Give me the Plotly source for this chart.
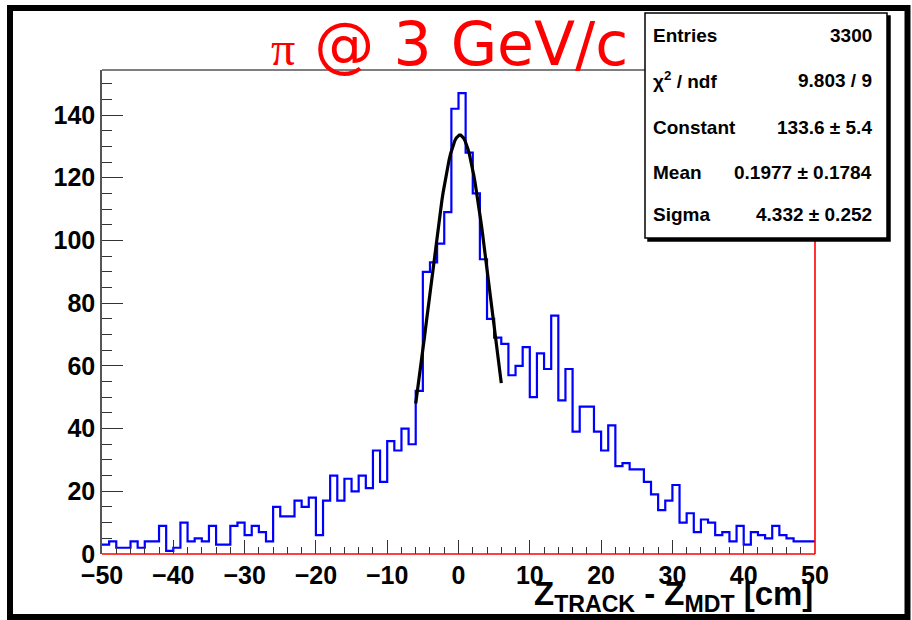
import numpy as np
import plotly.graph_objects as go

# Histogram: Z_TRACK - Z_MDT, 100 bins of 1 cm between -50 and 50
x_min, x_max, n_bins = -50, 50, 100
counts = [
    3, 4, 2, 2, 4, 2, 4, 4, 9, 1,
    2, 10, 4, 5, 4, 9, 3, 3, 9, 10,
    6, 9, 7, 4, 15, 12, 12, 17, 15, 18,
    6, 17, 25, 17, 24, 20, 25, 21, 33, 23,
    36, 33, 40, 35, 52, 90, 93, 99, 109, 142,
    147, 128, 115, 94, 75, 69, 67, 57, 60, 66,
    50, 64, 59, 76, 49, 59, 39, 47, 47, 39,
    33, 41, 28, 29, 27, 27, 23, 19, 14, 17,
    22, 10, 13, 7, 11, 10, 6, 7, 4, 9,
    3, 7, 6, 5, 9, 6, 5, 4, 4, 4,
]

# Gaussian fit results
entries = 3300
chi2, ndf = 9.803, 9
fit_const, fit_const_err = 133.6, 5.4
fit_mean, fit_mean_err = 0.1977, 0.1784
fit_sigma, fit_sigma_err = 4.332, 0.252
fit_range = (-6, 6)

stat_rows = [
    ("Entries", f"{entries}"),
    ("χ<sup>2</sup> / ndf", f"{chi2:.3f} / {ndf}"),
    ("Constant", f"{fit_const} ± {fit_const_err}"),
    ("Mean", f"{fit_mean} ± {fit_mean_err}"),
    ("Sigma", f"{fit_sigma} ± {fit_sigma_err}"),
]

y_max = 1.05 * max(counts)

edges = np.linspace(x_min, x_max, n_bins + 1)
step_x = list(edges)
step_y = list(counts) + [counts[-1]]

fx = np.linspace(fit_range[0], fit_range[1], 60)
fy = fit_const * np.exp(-0.5 * ((fx - fit_mean) / fit_sigma) ** 2)

# frame geometry (pixels)
W, H = 912, 620
L, R, T, B = 102, 815, 70, 554
PW, PH = R - L, B - T


def px(x):
    return (x - L) / PW


def py(y):
    return (B - y) / PH


fig = go.Figure()
fig.add_trace(go.Scatter(
    x=step_x, y=step_y, mode="lines", line_shape="hv",
    line=dict(color="#0000ff", width=2.2), hoverinfo="skip",
))
fig.add_trace(go.Scatter(
    x=fx, y=fy, mode="lines",
    line=dict(color="black", width=3.2), hoverinfo="skip",
))

tick_font = dict(family="Liberation Sans", size=25, color="black", weight="bold")

fig.update_layout(
    width=W, height=H,
    margin=dict(l=L, r=W - R, t=T, b=H - B),
    paper_bgcolor="white", plot_bgcolor="white",
    showlegend=False,
    xaxis=dict(
        range=[x_min, x_max], showgrid=False, zeroline=False, showline=False,
        tickmode="linear", tick0=-50, dtick=10,
        ticks="inside", ticklen=14, tickwidth=1.2, tickcolor="#333",
        minor=dict(dtick=2, ticks="inside", ticklen=7, tickwidth=1.2, tickcolor="#333"),
        tickfont=tick_font, ticklabelstandoff=4,
    ),
    yaxis=dict(
        range=[0, y_max], showgrid=False, zeroline=False,
        showline=True, linecolor="#555", linewidth=1.5,
        tickmode="linear", tick0=0, dtick=20,
        ticks="inside", ticklen=21, tickwidth=1.2, tickcolor="#333",
        minor=dict(dtick=5, ticks="inside", ticklen=10, tickwidth=1.2, tickcolor="#333"),
        tickfont=tick_font,
    ),
)

shapes = []
# outer page border
shapes.append(dict(type="rect", xref="paper", yref="paper",
                   x0=px(10), x1=px(907.5), y0=py(8), y1=py(617),
                   line=dict(color="black", width=6), fillcolor="rgba(0,0,0,0)"))
# frame: grey top, red bottom and right
shapes.append(dict(type="line", xref="paper", yref="paper",
                   x0=0, x1=1, y0=1, y1=1, line=dict(color="#555", width=1.5)))
shapes.append(dict(type="line", xref="paper", yref="paper",
                   x0=0, x1=1, y0=0, y1=0, line=dict(color="red", width=1.6)))
shapes.append(dict(type="line", xref="paper", yref="paper",
                   x0=1, x1=1, y0=0, y1=1, line=dict(color="red", width=1.6)))
# stat box with shadow
bx0, bx1, by0, by1 = 645, 887, 13, 238
shapes.append(dict(type="rect", xref="paper", yref="paper",
                   x0=px(bx0 + 3), x1=px(bx1 + 3), y0=py(by0 + 3), y1=py(by1 + 3),
                   line=dict(color="black", width=1.5), fillcolor="black"))
shapes.append(dict(type="rect", xref="paper", yref="paper",
                   x0=px(bx0), x1=px(bx1), y0=py(by0), y1=py(by1),
                   line=dict(color="black", width=1.5), fillcolor="white"))
fig.update_layout(shapes=shapes)

annotations = []
row_y = [36, 80, 127, 172, 214]
stat_font = dict(family="Liberation Sans", size=19, color="black", weight="bold")
for (lab, val), yy in zip(stat_rows, row_y):
    annotations.append(dict(xref="paper", yref="paper", x=px(651), y=py(yy),
                            xanchor="left", yanchor="middle", text=lab,
                            showarrow=False, font=stat_font))
    annotations.append(dict(xref="paper", yref="paper", x=px(874), y=py(yy),
                            xanchor="right", yanchor="middle", text=val,
                            showarrow=False, font=stat_font))

# title
annotations.append(dict(
    xref="paper", yref="paper", x=px(449), y=py(44),
    xanchor="center", yanchor="middle",
    text="<span style='font-family:Liberation Serif;font-size:48px'>π</span> @ 3 GeV/c",
    showarrow=False, font=dict(family="DejaVu Sans", size=60, color="red"),
))
# x-axis title
annotations.append(dict(
    xref="paper", yref="paper", x=px(815), y=py(619),
    xanchor="right", yanchor="bottom",
    text="Z<sub>TRACK</sub> - Z<sub>MDT</sub> [cm]",
    showarrow=False, font=dict(family="Liberation Sans", size=33, color="black", weight="bold"),
))
fig.update_layout(annotations=annotations)

fig.write_html("out.html")
